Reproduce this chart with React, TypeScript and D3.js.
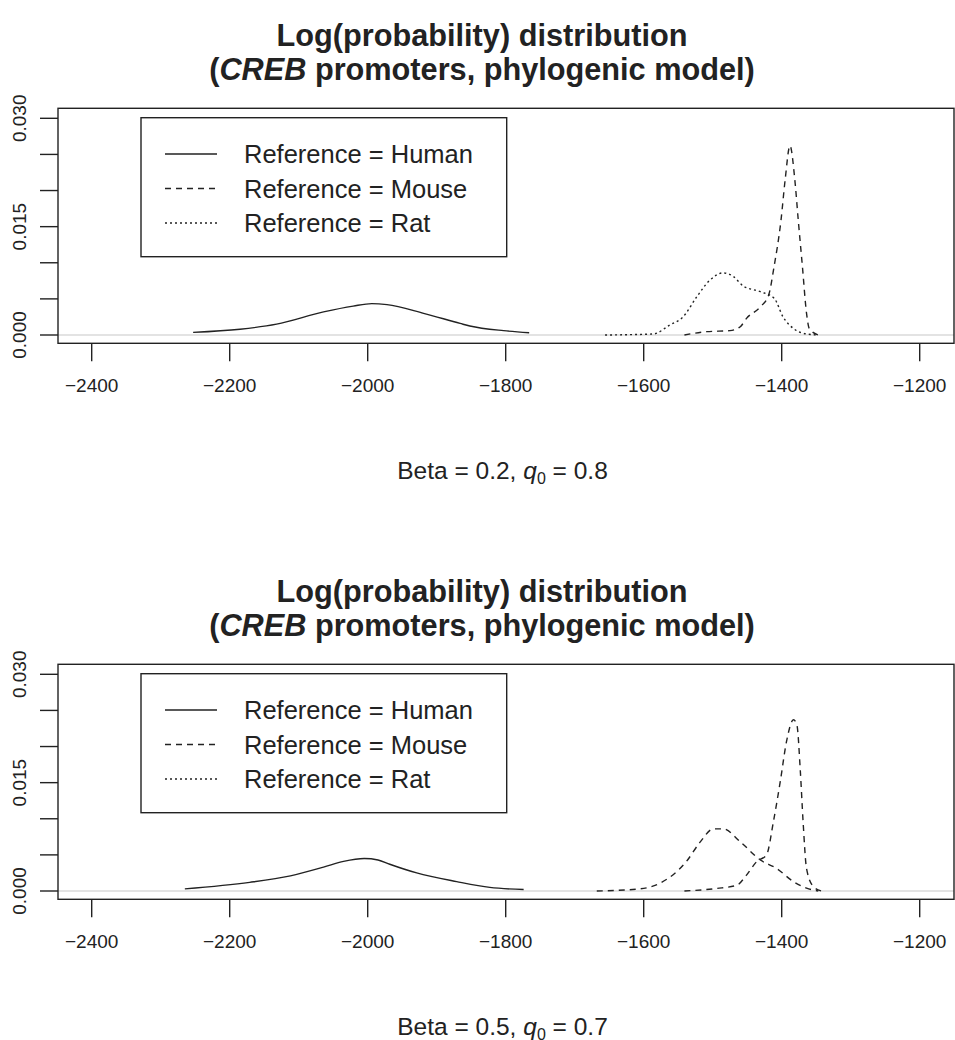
import React from "react";
import * as d3 from "d3";

const xTicks = [-2400, -2200, -2000, -1800, -1600, -1400, -1200];
const yTicks = [0, 0.005, 0.01, 0.015, 0.02, 0.025, 0.03];
const yLabels = [0, 0.015, 0.03];
const seriesNames = ["Reference = Human", "Reference = Mouse", "Reference = Rat"];

// Panel 1 (Beta = 0.2, q0 = 0.8)
const p1Human: [number, number][] = [
  [-2253, 0.00037], [-2185, 0.0008], [-2132, 0.0015], [-2064, 0.0032], [-2021, 0.004],
  [-1994, 0.00434], [-1972, 0.0042], [-1919, 0.003], [-1866, 0.0016], [-1852, 0.00125],
  [-1803, 0.0006], [-1766, 0.00032],
];
const p1Mouse: [number, number][] = [
  [-1541, 0], [-1509, 0.00046], [-1475, 0.0006], [-1460, 0.00115], [-1451, 0.0023],
  [-1431, 0.0039], [-1419, 0.0055], [-1411, 0.0095], [-1401, 0.0159], [-1395, 0.0215],
  [-1388, 0.0262], [-1381, 0.0215], [-1376, 0.0159], [-1370, 0.0095], [-1364, 0.003],
  [-1360, 0.0009], [-1347, 0],
];
const p1Rat: [number, number][] = [
  [-1656, 0], [-1586, 0.00014], [-1562, 0.0014], [-1543, 0.0025], [-1523, 0.0053],
  [-1504, 0.0076], [-1485, 0.0086], [-1470, 0.0081], [-1456, 0.0068], [-1431, 0.006],
  [-1411, 0.0051], [-1398, 0.0025], [-1383, 0.0009], [-1364, 0.00014], [-1347, 0],
];

// Panel 2 (Beta = 0.5, q0 = 0.7)
const p2Human: [number, number][] = [
  [-2265, 0.0003], [-2171, 0.0012], [-2112, 0.0021], [-2064, 0.0033], [-2035, 0.0041],
  [-2005, 0.0045], [-1985, 0.0043], [-1968, 0.0037], [-1929, 0.0025], [-1871, 0.0013],
  [-1823, 0.0005], [-1774, 0.0002],
];
const p2Mouse: [number, number][] = [
  [-1541, 0], [-1494, 0.00036], [-1465, 0.0008], [-1451, 0.0022], [-1436, 0.0041],
  [-1422, 0.005], [-1412, 0.0096], [-1402, 0.0152], [-1393, 0.0207], [-1383, 0.0237],
  [-1378, 0.023], [-1373, 0.0166], [-1369, 0.0096], [-1364, 0.0031], [-1354, 0.0006],
  [-1342, 0],
];
const p2Rat: [number, number][] = [
  [-1668, 0], [-1605, 0.0003], [-1576, 0.0011], [-1538, 0.0041], [-1518, 0.0068],
  [-1499, 0.0086], [-1485, 0.0086], [-1460, 0.0068], [-1431, 0.0043], [-1407, 0.0031],
  [-1383, 0.0013], [-1364, 0.0004], [-1347, 0],
];

const panels = [
  { beta: "0.2", q0: "0.8", human: p1Human, mouse: p1Mouse, rat: p1Rat, ratDash: "2,3" },
  { beta: "0.5", q0: "0.7", human: p2Human, mouse: p2Mouse, rat: p2Rat, ratDash: "6,5" },
];

const FONT = "'Liberation Sans', Arial, Helvetica, sans-serif";
const INK = "#222";

function fmtX(v: number) {
  return v < 0 ? "\u2212" + Math.abs(v) : String(v);
}

function Panel({ p, oy }: { p: (typeof panels)[number]; oy: number }) {
  const x = d3.scaleLinear().domain([-2400, -1200]).range([91.7, 919.7]);
  const y = d3.scaleLinear().domain([0, 0.03]).range([335 + oy, 118.3 + oy]);
  const line = d3
    .line<[number, number]>()
    .x((d) => x(d[0]))
    .y((d) => y(d[1]))
    .curve(d3.curveMonotoneX);
  const boxL = 58, boxR = 954, boxT = 108.3 + oy, boxB = 343.3 + oy;
  const legL = 141, legR = 506.7, legT = 117.7 + oy, legB = 256.7 + oy;
  const rows = [154 + oy, 188.5 + oy, 223 + oy];
  const dashes = ["none", "6,5", "2,3"];
  return (
    <g>
      <text x={482} y={46 + oy} textAnchor="middle" fontFamily={FONT} fontWeight="bold" fontSize={30.7} fill={INK}>
        Log(probability) distribution
      </text>
      <text x={482} y={80 + oy} textAnchor="middle" fontFamily={FONT} fontWeight="bold" fontSize={30.7} fill={INK}>
        (<tspan fontStyle="italic">CREB</tspan> promoters, phylogenic model)
      </text>
      <line x1={boxL} x2={boxR} y1={y(0)} y2={y(0)} stroke="#c8c8c8" strokeWidth={1.2} />
      <path d={line(p.human) || ""} fill="none" stroke={INK} strokeWidth={1.4} />
      <path d={line(p.mouse) || ""} fill="none" stroke={INK} strokeWidth={1.4} strokeDasharray="6,5" />
      <path d={line(p.rat) || ""} fill="none" stroke={INK} strokeWidth={1.4} strokeDasharray={p.ratDash} />
      <rect x={boxL} y={boxT} width={boxR - boxL} height={boxB - boxT} fill="none" stroke={INK} strokeWidth={1.4} />
      {yTicks.map((t) => (
        <line key={t} x1={40} x2={boxL} y1={y(t)} y2={y(t)} stroke={INK} strokeWidth={1.4} />
      ))}
      {yLabels.map((t) => (
        <text key={t} transform={`translate(25.5,${y(t)}) rotate(-90)`} textAnchor="middle" fontFamily={FONT} fontSize={19} fill={INK}>
          {t.toFixed(3)}
        </text>
      ))}
      {xTicks.map((t) => (
        <g key={t}>
          <line x1={x(t)} x2={x(t)} y1={boxB} y2={boxB + 18} stroke={INK} strokeWidth={1.4} />
          <text x={x(t)} y={392 + oy} textAnchor="middle" fontFamily={FONT} fontSize={19} fill={INK}>
            {fmtX(t)}
          </text>
        </g>
      ))}
      <rect x={legL} y={legT} width={legR - legL} height={legB - legT} fill="white" stroke={INK} strokeWidth={1.4} />
      {seriesNames.map((n, i) => (
        <g key={n}>
          <line x1={165} x2={217} y1={rows[i]} y2={rows[i]} stroke={INK} strokeWidth={1.3}
            strokeDasharray={i === 0 ? undefined : dashes[i]} />
          <text x={244} y={rows[i] + 9} fontFamily={FONT} fontSize={25.5} fill={INK}>
            {n}
          </text>
        </g>
      ))}
      <text x={502.5} y={479 + oy} textAnchor="middle" fontFamily={FONT} fontSize={24.5} fill={INK}>
        Beta = {p.beta}, <tspan fontStyle="italic">q</tspan>
        <tspan fontSize={16} dy={5}>0</tspan>
        <tspan dy={-5}> = {p.q0}</tspan>
      </text>
    </g>
  );
}

export default function App() {
  return (
    <svg width={955} height={1040} style={{ position: "absolute", left: 0, top: 0, background: "white" }}>
      <rect x={0} y={0} width={955} height={1040} fill="white" />
      {panels.map((p, i) => (
        <Panel key={i} p={p} oy={i * 556} />
      ))}
    </svg>
  );
}
